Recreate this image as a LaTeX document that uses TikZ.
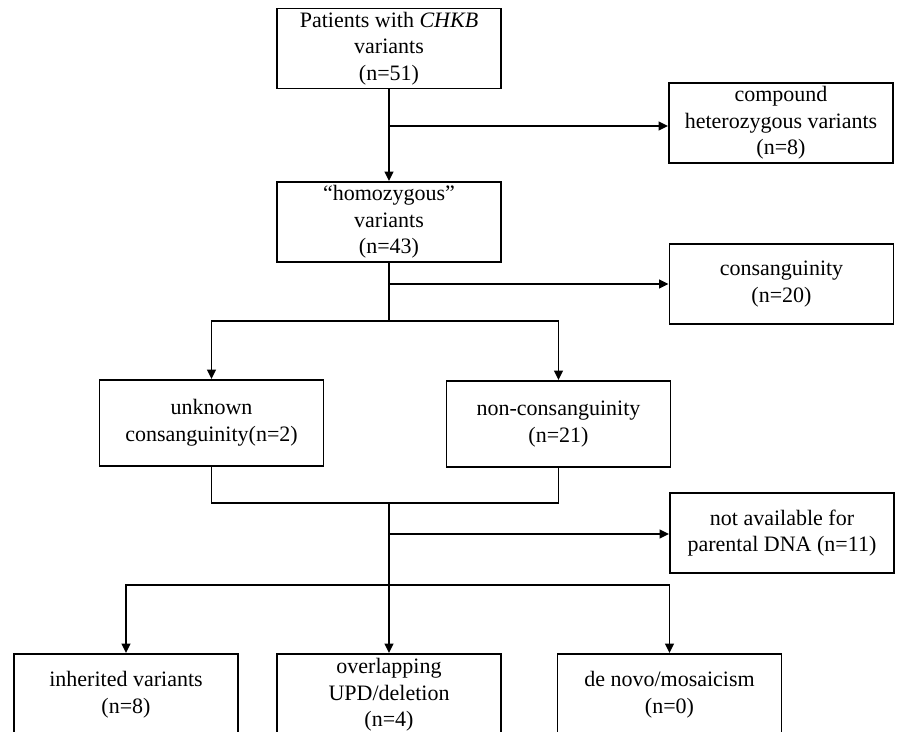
\documentclass[tikz,border=0pt]{standalone}
\usepackage{fontspec}
\setmainfont{Liberation Serif}
\usetikzlibrary{arrows.meta, positioning}

\begin{document}
\begin{tikzpicture}[x=0.75pt, y=-0.75pt, line width=1.4pt,
    box/.style={draw, rectangle, align=center, minimum width=168pt, minimum height=60pt,
      inner sep=2pt, font=\fontsize{16.5}{20}\selectfont},
    arr/.style={-{Triangle[length=7pt, width=6.5pt]}}]
			\useasboundingbox (0,0) rectangle (898,731);
			\clip (0,0) rectangle (898,731);

			% Nodes
			\node (pat) [box] at (389,48.5) {Patients with \textit{CHKB}\\variants\\(n=51)};
			\node (comp) [box] at (781,123) {compound\\heterozygous variants\\(n=8)};
			\node (hom) [box] at (389,222) {“homozygous”\\variants\\(n=43)};
			\node (cons) [box] at (781.5,284) {consanguinity\\(n=20)};
			\node (unk) [box, minimum height=64.5pt] at (211.5,423) {unknown\\consanguinity(n=2)};
			\node (non) [box, minimum height=64.5pt] at (558.5,424) {non-consanguinity\\(n=21)};
			\node (nad) [box] at (782,533) {not available for\\parental DNA (n=11)};
			\node (inh) [box, minimum height=61.5pt] at (126,695) {inherited variants\\(n=8)};
			\node (ovl) [box, minimum height=61.5pt] at (389,695) {overlapping\\UPD/deletion\\(n=4)};
			\node (den) [box, minimum height=61.5pt] at (669.5,695) {de novo/mosaicism\\(n=0)};

			% Junctions
			\coordinate (b1) at (389,126);
			\coordinate (b2) at (389,284);
			\coordinate (s1) at (389,321);
			\coordinate (m1) at (389,503);
			\coordinate (b3) at (389,534);
			\coordinate (s2) at (389,585);

			% Edges
			\draw [arr] (pat) -- (hom);
			\draw [arr] (b1) -- (b1 -| comp.west);
			\draw (hom) -- (s1);
			\draw [arr] (b2) -- (cons);
			\draw [arr] (s1) -| (unk);
			\draw [arr] (s1) -| (non);
			\draw (unk) |- (m1);
			\draw (non) |- (m1);
			\draw (m1) -- (s2);
			\draw [arr] (b3) -- (b3 -| nad.west);
			\draw [arr] (s2) -| (inh);
			\draw [arr] (s2) -- (ovl);
			\draw [arr] (s2) -| (den);

		\end{tikzpicture}
\end{document}
